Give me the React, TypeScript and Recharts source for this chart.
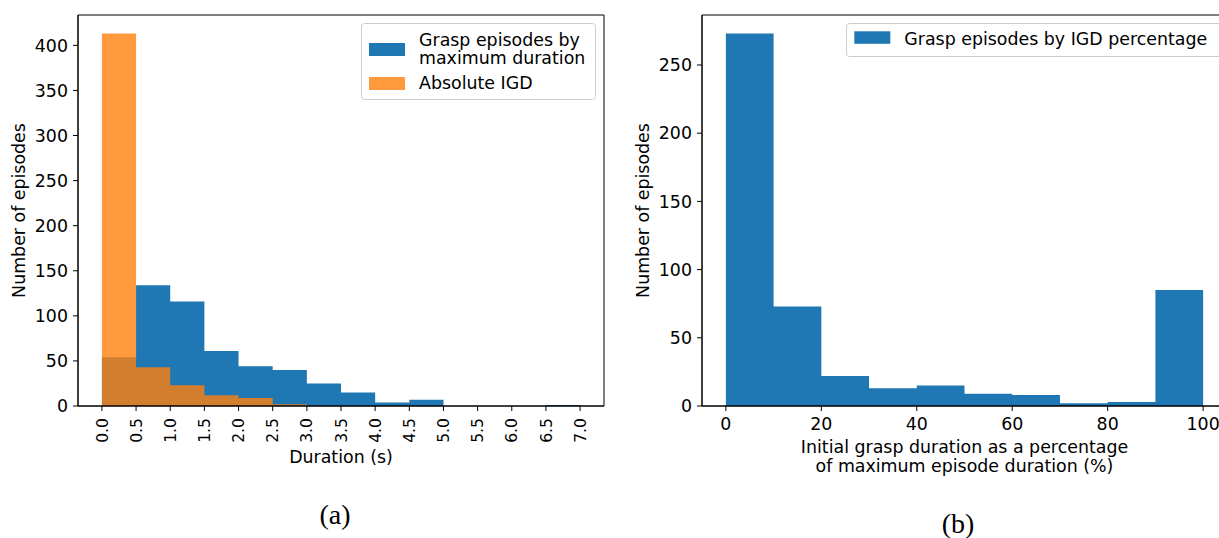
import React from 'react';
import { AreaChart, Area, XAxis, YAxis, ReferenceArea, Legend, Label } from 'recharts';

// (a) histogram: bin edges in seconds and counts per bin
const durationEdges = [0, 0.5, 1, 1.5, 2, 2.5, 3, 3.5, 4, 4.5, 5, 5.5, 6, 6.5, 7];
const maxDurationCounts = [54, 134, 116, 61, 44, 40, 25, 15, 4, 7, 0, 0, 0, 1];
const absoluteIgdCounts = [413, 43, 23, 12, 9, 2];
const durationYTicks = [0, 50, 100, 150, 200, 250, 300, 350, 400];

// (b) histogram: bin edges in percent and counts per bin
const percentEdges = [0, 10, 20, 30, 40, 50, 60, 70, 80, 90, 100];
const igdPercentCounts = [273, 73, 22, 13, 15, 9, 8, 2, 3, 85];
const percentXTicks = [0, 20, 40, 60, 80, 100];
const percentYTicks = [0, 50, 100, 150, 200, 250];

const BLUE = '#1f77b4';
const ORANGE = '#ff7f0e';
const FONT = 'DejaVu Sans';
const FS = 17.4;

const tickStyle = { fontSize: FS, fontFamily: FONT, fill: '#000' };

// step areas need one extra point at the last edge that drops to 0
const durationRows = durationEdges.map((edge, i) => ({
    x: edge,
    maxDur: i < maxDurationCounts.length ? maxDurationCounts[i] : 0,
    igd:
        i < absoluteIgdCounts.length
            ? absoluteIgdCounts[i]
            : i === absoluteIgdCounts.length
            ? 0
            : null,
}));

const percentRows = percentEdges.map((edge, i) => ({
    x: edge,
    pct: i < igdPercentCounts.length ? igdPercentCounts[i] : 0,
}));

const durXDomain = [-0.35, 7.35];
const durYMax = Math.max(...maxDurationCounts, ...absoluteIgdCounts) * 1.05;
const pctXDomain = [-5, 105];
const pctYMax = Math.max(...igdPercentCounts) * 1.05;

const RotatedTick = (props: any) => {
    const { x, y, payload } = props;
    return (
        <text
            x={x}
            y={y}
            transform={`rotate(-90 ${x} ${y})`}
            textAnchor="end"
            dy="0.36em"
            fontSize={15.6}
            fontFamily={FONT}
            fill="#000"
        >
            {Number(payload.value).toFixed(1)}
        </text>
    );
};

const yTitle = (cx: number) => (props: any) => {
    const vb = props.viewBox || {};
    const cy = (vb.y ?? 15) + (vb.height ?? 391) / 2;
    return (
        <text
            x={cx}
            y={cy}
            transform={`rotate(-90 ${cx} ${cy})`}
            textAnchor="middle"
            dy="0.36em"
            fontSize={FS}
            fontFamily={FONT}
            fill="#000"
        >
            Number of episodes
        </text>
    );
};

const xTitle = (lines: string[], baselines: number[]) => (props: any) => {
    const vb = props.viewBox || {};
    const cx = (vb.x ?? 0) + (vb.width ?? 0) / 2;
    return (
        <g>
            {lines.map((l, i) => (
                <text
                    key={l}
                    x={cx}
                    y={baselines[i]}
                    textAnchor="middle"
                    fontSize={FS}
                    fontFamily={FONT}
                    fill="#000"
                >
                    {l}
                </text>
            ))}
        </g>
    );
};

const LeftLegend = () => (
    <svg width={235} height={77} style={{ display: 'block' }}>
        <rect x={0.5} y={0.5} width={234} height={76} rx={3} fill="#fff" fillOpacity={0.8} stroke="#ccc" />
        <rect x={8} y={20} width={36} height={13} fill={BLUE} />
        <text x={58} y={23} fontSize={FS} fontFamily={FONT} fill="#000">
            Grasp episodes by
        </text>
        <text x={58} y={40.6} fontSize={FS} fontFamily={FONT} fill="#000">
            maximum duration
        </text>
        <rect x={8} y={54} width={36} height={13} fill={ORANGE} fillOpacity={0.8} />
        <text x={58} y={66.3} fontSize={FS} fontFamily={FONT} fill="#000">
            Absolute IGD
        </text>
    </svg>
);

const RightLegend = () => (
    <svg width={374} height={34} style={{ display: 'block' }}>
        <rect x={0.5} y={0.5} width={380} height={33} rx={3} fill="#fff" fillOpacity={0.8} stroke="#ccc" />
        <rect x={8.3} y={8.3} width={36} height={12.5} fill={BLUE} />
        <text x={58.3} y={21.6} fontSize={FS} fontFamily={FONT} fill="#000">
            Grasp episodes by IGD percentage
        </text>
    </svg>
);

const DurationChart = () => (
    <AreaChart
        width={620}
        height={480}
        data={durationRows}
        margin={{ top: 15, right: 16, bottom: 20, left: 12 }}
    >
        <XAxis
            dataKey="x"
            type="number"
            domain={durXDomain}
            allowDataOverflow
            ticks={durationEdges}
            interval={0}
            height={54}
            tickSize={5}
            tickMargin={7}
            tick={<RotatedTick />}
            stroke="#000"
        >
            <Label content={xTitle(['Duration (s)'], [463])} position="insideBottom" />
        </XAxis>
        <YAxis
            type="number"
            domain={[0, durYMax]}
            allowDataOverflow
            ticks={durationYTicks}
            interval={0}
            width={66}
            tickSize={5}
            tickMargin={5}
            tick={tickStyle}
            stroke="#000"
        >
            <Label content={yTitle(19)} position="insideLeft" />
        </YAxis>
        <Area
            type="stepAfter"
            dataKey="maxDur"
            name="Grasp episodes by maximum duration"
            stroke="none"
            fill={BLUE}
            fillOpacity={1}
            dot={false}
            activeDot={false}
            isAnimationActive={false}
        />
        <Area
            type="stepAfter"
            dataKey="igd"
            name="Absolute IGD"
            stroke="none"
            fill={ORANGE}
            fillOpacity={0.8}
            dot={false}
            activeDot={false}
            isAnimationActive={false}
        />
        <ReferenceArea
            x1={durXDomain[0]}
            x2={durXDomain[1]}
            y1={0}
            y2={durYMax}
            fill="none"
            stroke="#000"
            strokeWidth={1}
        />
        <Legend
            layout="horizontal"
            verticalAlign="middle"
            align="center"
            content={() => <LeftLegend />}
            wrapperStyle={{ left: 361, top: 23, width: 235, height: 77 }}
        />
    </AreaChart>
);

const PercentChart = () => (
    <AreaChart
        width={640}
        height={480}
        data={percentRows}
        margin={{ top: 15, right: 33, bottom: 14, left: 16 }}
    >
        <XAxis
            dataKey="x"
            type="number"
            domain={pctXDomain}
            allowDataOverflow
            ticks={percentXTicks}
            interval={0}
            height={60}
            tickSize={5}
            tickMargin={7}
            tick={tickStyle}
            stroke="#000"
        >
            <Label
                content={xTitle(
                    ['Initial grasp duration as a percentage', 'of maximum episode duration (%)'],
                    [453, 472]
                )}
                position="insideBottom"
            />
        </XAxis>
        <YAxis
            type="number"
            domain={[0, pctYMax]}
            allowDataOverflow
            ticks={percentYTicks}
            interval={0}
            width={66}
            tickSize={5}
            tickMargin={5}
            tick={tickStyle}
            stroke="#000"
        >
            <Label content={yTitle(23)} position="insideLeft" />
        </YAxis>
        <Area
            type="stepAfter"
            dataKey="pct"
            name="Grasp episodes by IGD percentage"
            stroke="none"
            fill={BLUE}
            fillOpacity={1}
            dot={false}
            activeDot={false}
            isAnimationActive={false}
        />
        <ReferenceArea
            x1={pctXDomain[0]}
            x2={pctXDomain[1]}
            y1={0}
            y2={pctYMax}
            fill="none"
            stroke="#000"
            strokeWidth={1}
        />
        <Legend
            layout="horizontal"
            verticalAlign="middle"
            align="center"
            content={() => <RightLegend />}
            wrapperStyle={{ left: 226, top: 23, width: 374, height: 34 }}
        />
    </AreaChart>
);

const captionStyle: React.CSSProperties = {
    position: 'absolute',
    fontFamily: 'Liberation Serif',
    fontSize: 28,
    lineHeight: '28px',
    width: 60,
    textAlign: 'center',
    color: '#000',
};

export default function App() {
    return (
        <div
            style={{
                position: 'absolute',
                left: 0,
                top: 0,
                width: 1219,
                height: 538,
                overflow: 'hidden',
                background: '#fff',
            }}
        >
            <div style={{ position: 'absolute', left: 0, top: 0 }}>
                <DurationChart />
            </div>
            <div style={{ position: 'absolute', left: 620, top: 0 }}>
                <PercentChart />
            </div>
            <div style={{ ...captionStyle, left: 305, top: 501 }}>(a)</div>
            <div style={{ ...captionStyle, left: 928, top: 510 }}>(b)</div>
        </div>
    );
}
